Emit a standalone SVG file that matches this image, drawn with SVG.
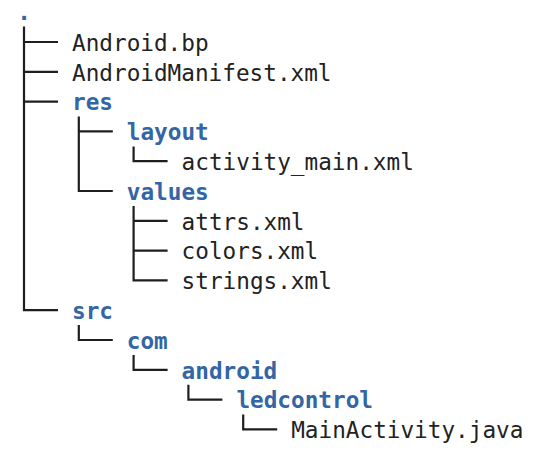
<svg xmlns="http://www.w3.org/2000/svg" width="546" height="460" viewBox="0 0 546 460">
<style>
text{font-family:"DejaVu Sans Mono","Liberation Mono",monospace;font-size:22.7px;fill:#222}
.d{fill:#3465a4;font-weight:bold}
.c path{fill:none;stroke:#1e1e1e;stroke-width:2.2;stroke-linecap:butt;stroke-linejoin:miter}
</style>
<rect width="546" height="460" fill="#fff"/>
<g class="c" id="connectors">
<path d="M24 26.5V310.2H58M24 42H58M24 71.8H58M24 101.6H58"/>
<path d="M78.8 116.6V191H112.8M78.8 131.4H112.8"/>
<path d="M133.6 146.4V161.2H167.6"/>
<path d="M133.6 206V280.4H167.6M133.6 220.8H167.6M133.6 250.6H167.6"/>
<path d="M78.8 325V340H112.8"/>
<path d="M133.6 355V369.8H167.6"/>
<path d="M188.4 384.8V399.6H222.4"/>
<path d="M243.2 414.6V429.4H277.2"/>
</g>
<g id="root"><text class="d" x="17.3" y="19.5">.</text></g>
<g id="android-bp"><text x="72" y="50.7">Android.bp</text></g>
<g id="manifest"><text x="72" y="80.5">AndroidManifest.xml</text></g>
<g id="res"><text class="d" x="72" y="110.3">res</text></g>
<g id="layout"><text class="d" x="126.8" y="140.1">layout</text></g>
<g id="activity-main"><text x="181.6" y="169.9">activity_main.xml</text></g>
<g id="values"><text class="d" x="126.8" y="199.7">values</text></g>
<g id="attrs"><text x="181.6" y="229.5">attrs.xml</text></g>
<g id="colors"><text x="181.6" y="259.3">colors.xml</text></g>
<g id="strings"><text x="181.6" y="289.1">strings.xml</text></g>
<g id="src"><text class="d" x="72" y="318.9">src</text></g>
<g id="com"><text class="d" x="126.8" y="348.7">com</text></g>
<g id="android"><text class="d" x="181.6" y="378.5">android</text></g>
<g id="ledcontrol"><text class="d" x="236.4" y="408.3">ledcontrol</text></g>
<g id="main-activity"><text x="291.2" y="438.1">MainActivity.java</text></g>
</svg>
